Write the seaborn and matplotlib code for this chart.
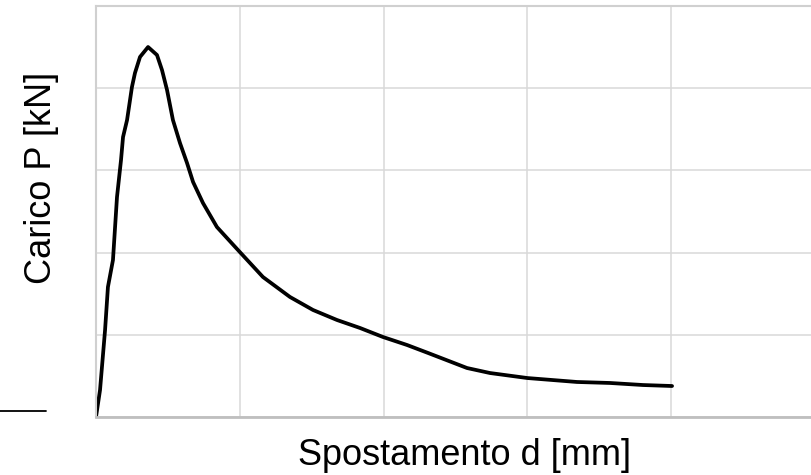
import seaborn as sns
import matplotlib.pyplot as plt
import pandas as pd
from matplotlib.lines import Line2D

# Curva carico-spostamento (unità di griglia)
spostamento = [0.0, 0.028, 0.063, 0.083, 0.118, 0.146, 0.174, 0.188, 0.216, 0.250,
               0.271, 0.306, 0.362, 0.424, 0.459, 0.494, 0.535, 0.584, 0.633, 0.675,
               0.744, 0.841, 0.987, 1.161, 1.349, 1.509, 1.676, 1.836, 1.996, 2.163,
               2.309, 2.580, 2.740, 3.000, 3.345, 3.574, 3.804, 4.006]
carico = [0.0, 0.328, 1.058, 1.582, 1.910, 2.676, 3.127, 3.406, 3.613, 4.015,
          4.185, 4.380, 4.501, 4.404, 4.221, 3.978, 3.613, 3.333, 3.090, 2.859,
          2.603, 2.311, 2.032, 1.703, 1.460, 1.302, 1.180, 1.083, 0.973, 0.876,
          0.779, 0.596, 0.535, 0.474, 0.426, 0.414, 0.389, 0.377]
grid_x = [0, 1, 2, 3, 4, 5]
grid_y = [0, 1, 2, 3, 4, 5]

df = pd.DataFrame({'d': spostamento, 'P': carico})

sns.set_theme(style='whitegrid')
plt.rcParams['font.family'] = ['Liberation Sans', 'DejaVu Sans']

fig = plt.figure(figsize=(8.11, 4.75), dpi=100)
ax = fig.add_axes([96 / 811, 58 / 475, 719 / 811, 411 / 475])

sns.lineplot(data=df, x='d', y='P', sort=False, color='black', linewidth=2.7, ax=ax)
ax.lines[0].set_solid_joinstyle('round')
ax.lines[0].set_solid_capstyle('round')

ax.set_xlim(0, 5)
ax.set_ylim(0, 5)
ax.set_xticks(grid_x)
ax.set_yticks(grid_y)
ax.set_xticklabels([])
ax.set_yticklabels([])
ax.tick_params(length=0)
ax.set_xlabel('')
ax.set_ylabel('')
ax.grid(True, color='#d9d9d9', linewidth=1.1)

for side in ['left', 'top']:
    ax.spines[side].set_color('#d0d0d0')
    ax.spines[side].set_linewidth(1.5)
ax.spines['right'].set_visible(False)
ax.spines['bottom'].set_color('#bfbfbf')
ax.spines['bottom'].set_linewidth(2)

fig.text(465 / 811, (475 - 465) / 475, 'Spostamento d [mm]', fontsize=26,
         ha='center', va='baseline', color='black')
fig.text(42 / 811, (475 - 178) / 475, 'Carico P [kN]', fontsize=26,
         rotation=90, ha='center', va='center', color='black')

# tratto residuo in basso a sinistra
fig.add_artist(Line2D([0, 46 / 811], [(475 - 411) / 475] * 2,
                      color='black', linewidth=1.3, transform=fig.transFigure))

fig.savefig('out.png', dpi=100)
